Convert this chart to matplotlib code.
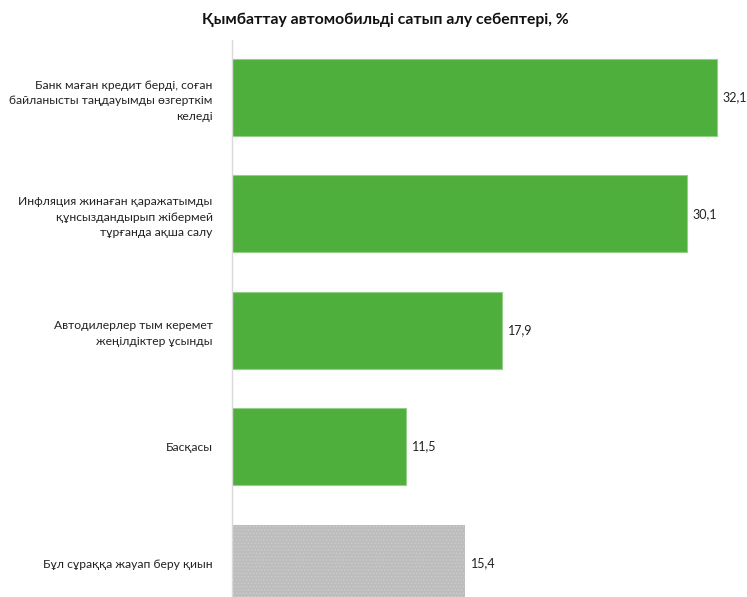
import matplotlib.pyplot as plt
import numpy as np

plt.rcParams['font.family'] = ['Lato', 'DejaVu Sans']
plt.rcParams['hatch.linewidth'] = 0.5

reasons = [
    'Банк маған кредит берді, соған\nбайланысты таңдауымды өзгерткім\nкеледі',
    'Инфляция жинаған қаражатымды\nқұнсыздандырып жібермей\nтұрғанда ақша салу',
    'Автодилерлер тым керемет\nжеңілдіктер ұсынды',
    'Басқасы',
    'Бұл сұраққа жауап беру қиын',
]
shares = [32.1, 30.1, 17.9, 11.5, 15.4]
colors = ['#4eaf3c', '#4eaf3c', '#4eaf3c', '#4eaf3c', '#bdbdbd']

fig = plt.figure(figsize=(7.47, 5.97), dpi=100)
ax = fig.add_axes([232 / 747, 0, 500 / 747, 557 / 597])

y = np.arange(len(reasons))
bars = ax.barh(y, shares, height=0.66, color=colors, edgecolor='#93cf84', linewidth=0.8)
# the "hard to say" bar is grey with a fine dot pattern
bars[-1].set_edgecolor('#cfcfcf')
bars[-1].set_linewidth(0)
bars[-1].set_hatch('.....')

for yi, v in zip(y, shares):
    ax.text(v + 0.4, yi, f'{v:.1f}'.replace('.', ','), va='center', ha='left',
            fontsize=9, color='#222222')

ax.set_xlim(0, 33.1)
ax.set_ylim(4.292, -0.494)
ax.set_yticks(y)
ax.set_yticklabels(reasons, fontsize=8.7, color='#222222', linespacing=1.5)
ax.tick_params(axis='y', length=0, pad=14)
ax.set_xticks([])
for s in ['top', 'right', 'bottom']:
    ax.spines[s].set_visible(False)
ax.spines['left'].set_color('#d9d9d9')
ax.spines['left'].set_linewidth(1)

fig.text(385 / 747, 1 - 20 / 597, 'Қымбаттау автомобильді сатып алу себептері, %',
         ha='center', va='center', fontsize=11.3, fontweight='bold', color='#111111')

fig.savefig('out.png', dpi=100)
